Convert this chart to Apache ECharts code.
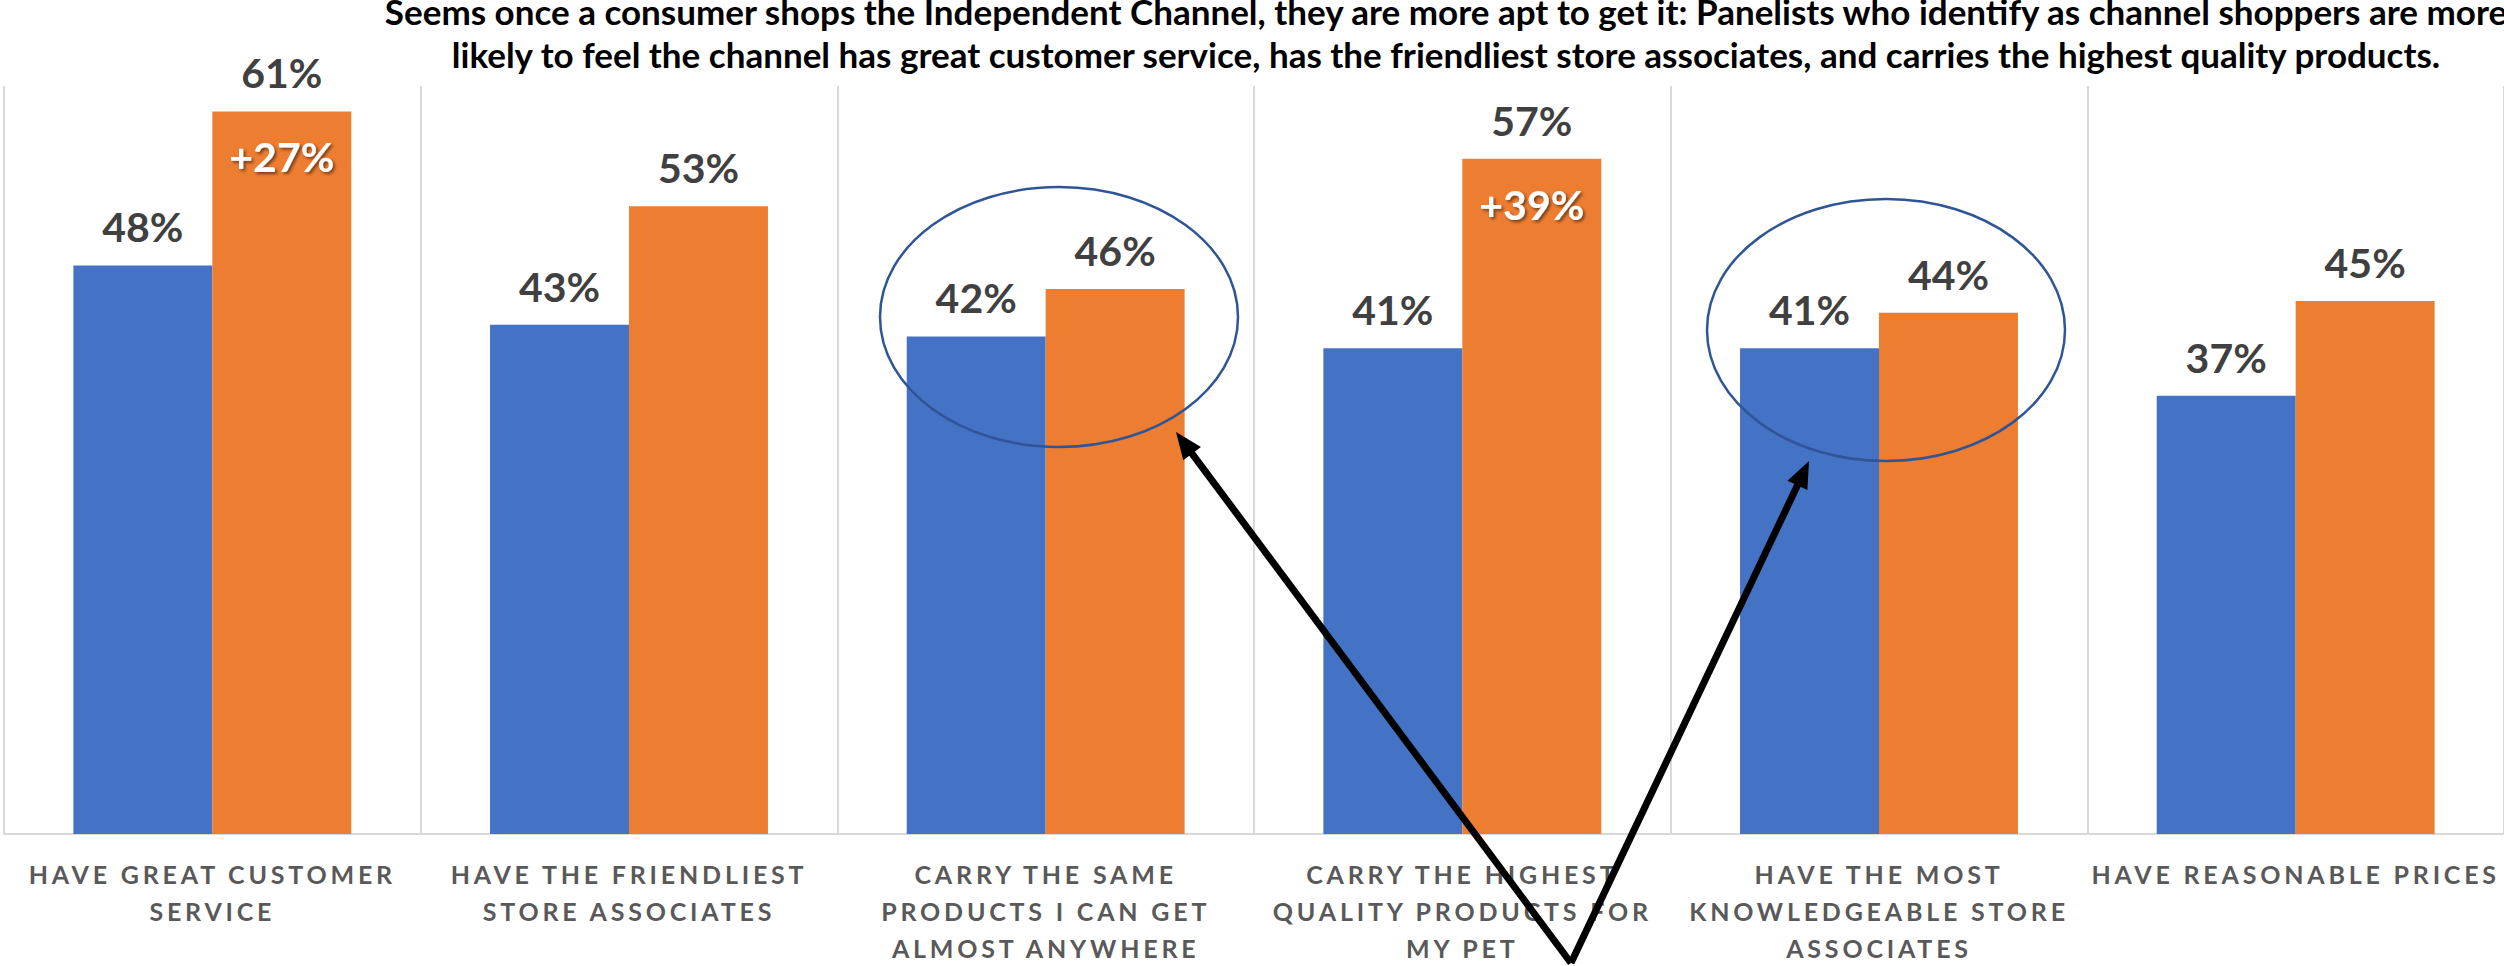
<!DOCTYPE html>
<html>
<head>
<meta charset="utf-8">
<script src="https://cdn.jsdelivr.net/npm/echarts@6/dist/echarts.min.js"></script>
<style>
  html, body { margin: 0; padding: 0; background: #ffffff; }
  #chart { width: 2504px; height: 966px; }
  #chart text[fill="#595959"] { letter-spacing: 3.8px; }
</style>
</head>
<body>
<div id="chart"></div>
<script>
// ---- data ----
const categories = [
  'HAVE GREAT CUSTOMER\nSERVICE',
  'HAVE THE FRIENDLIEST\nSTORE ASSOCIATES',
  'CARRY THE SAME\nPRODUCTS I CAN GET\nALMOST ANYWHERE',
  'CARRY THE HIGHEST\nQUALITY PRODUCTS FOR\nMY PET',
  'HAVE THE MOST\nKNOWLEDGEABLE STORE\nASSOCIATES',
  'HAVE REASONABLE PRICES'
];
const allPanelists = [48, 43, 42, 41, 41, 37];
const channelShoppers = [61, 53, 46, 57, 44, 45];
const liftLabels = ['+27%', '', '', '+39%', '', ''];
const titleText = 'Seems once a consumer shops the Independent Channel, they are more apt to get it: Panelists who identify as channel shoppers are more\nlikely to feel the channel has great customer service, has the friendliest store associates, and carries the highest quality products.';

// ---- annotation helpers ----
function arrow(x1, y1, x2, y2) {
  const dx = x2 - x1, dy = y2 - y1;
  const len = Math.sqrt(dx * dx + dy * dy);
  const ux = dx / len, uy = dy / len;
  const hl = 27, hw = 11;
  const bx = x2 - ux * hl, by = y2 - uy * hl;
  const nx = -uy, ny = ux;
  return [
    { type: 'line', z: 100, shape: { x1: x1, y1: y1, x2: bx + ux * 2, y2: by + uy * 2 },
      style: { stroke: '#000000', lineWidth: 7 } },
    { type: 'polygon', z: 100,
      shape: { points: [[x2, y2], [bx + nx * hw, by + ny * hw], [bx - nx * hw, by - ny * hw]] },
      style: { fill: '#000000' } }
  ];
}

const chart = echarts.init(document.getElementById('chart'), null, { renderer: 'svg' });

const valueLabel = {
  show: true,
  position: 'top',
  distance: 18,
  formatter: p => p.value + '%',
  fontFamily: 'Lato',
  fontWeight: 'bold',
  fontSize: 41,
  lineHeight: 41,
  color: '#404040'
};

chart.setOption({
  animation: false,
  backgroundColor: '#ffffff',
  grid: { left: 4, top: 86, width: 2502, height: 749, containLabel: false },
  xAxis: [
    {
      type: 'category',
      data: categories,
      axisTick: { show: false },
      axisLine: { show: true, lineStyle: { color: '#d9d9d9', width: 2 } },
      splitLine: { show: true, interval: 0, lineStyle: { color: '#d9d9d9', width: 2 } },
      axisLabel: {
        interval: 0,
        margin: 22,
        fontFamily: 'Lato',
        fontWeight: 'bold',
        fontSize: 25,
        lineHeight: 36.7,
        color: '#595959',
        align: 'center'
      }
    },
    {
      type: 'category',
      data: categories,
      show: false
    }
  ],
  yAxis: {
    type: 'value',
    min: 0,
    max: 63.15,
    show: false,
    splitLine: { show: false }
  },
  series: [
    {
      name: 'All panelists',
      type: 'bar',
      data: allPanelists,
      barGap: '0%',
      barCategoryGap: '33.3%',
      itemStyle: { color: '#4472C4' },
      label: valueLabel
    },
    {
      name: 'Channel shoppers',
      type: 'bar',
      data: channelShoppers,
      barGap: '0%',
      barCategoryGap: '33.3%',
      itemStyle: { color: '#ED7D31' },
      label: valueLabel
    },
    {
      name: 'placeholder',
      type: 'bar',
      xAxisIndex: 1,
      data: allPanelists.map(() => null),
      barGap: '0%',
      barCategoryGap: '33.3%',
      silent: true
    },
    {
      name: 'Lift',
      type: 'bar',
      xAxisIndex: 1,
      data: channelShoppers,
      barGap: '0%',
      barCategoryGap: '33.3%',
      silent: true,
      z: 5,
      itemStyle: { color: 'rgba(0,0,0,0)' },
      label: {
        show: true,
        position: 'insideTop',
        distance: 25,
        formatter: p => liftLabels[p.dataIndex],
        fontFamily: 'Lato',
        fontWeight: 'bold',
        fontSize: 41,
        lineHeight: 41,
        color: '#ffffff',
        textShadowColor: 'rgba(0,0,0,0.5)',
        textShadowBlur: 3,
        textShadowOffsetX: 2,
        textShadowOffsetY: 2
      }
    }
  ],
  graphic: [
    {
      type: 'text', z: 100, x: 1446, y: -11,
      style: {
        text: titleText,
        textAlign: 'center',
        textVerticalAlign: 'top',
        fontFamily: 'Lato',
        fontWeight: 'bold',
        fontSize: 35,
        lineHeight: 43,
        fill: '#000000'
      }
    },
    { type: 'ellipse', z: 100, shape: { cx: 1059, cy: 317, rx: 179, ry: 130 },
      style: { fill: 'none', stroke: '#2F5597', lineWidth: 2.5 } },
    { type: 'ellipse', z: 100, shape: { cx: 1886, cy: 330, rx: 179, ry: 131 },
      style: { fill: 'none', stroke: '#2F5597', lineWidth: 2.5 } }
  ].concat(arrow(1571, 963, 1176, 432)).concat(arrow(1571, 963, 1809, 461))
});
</script>
</body>
</html>
